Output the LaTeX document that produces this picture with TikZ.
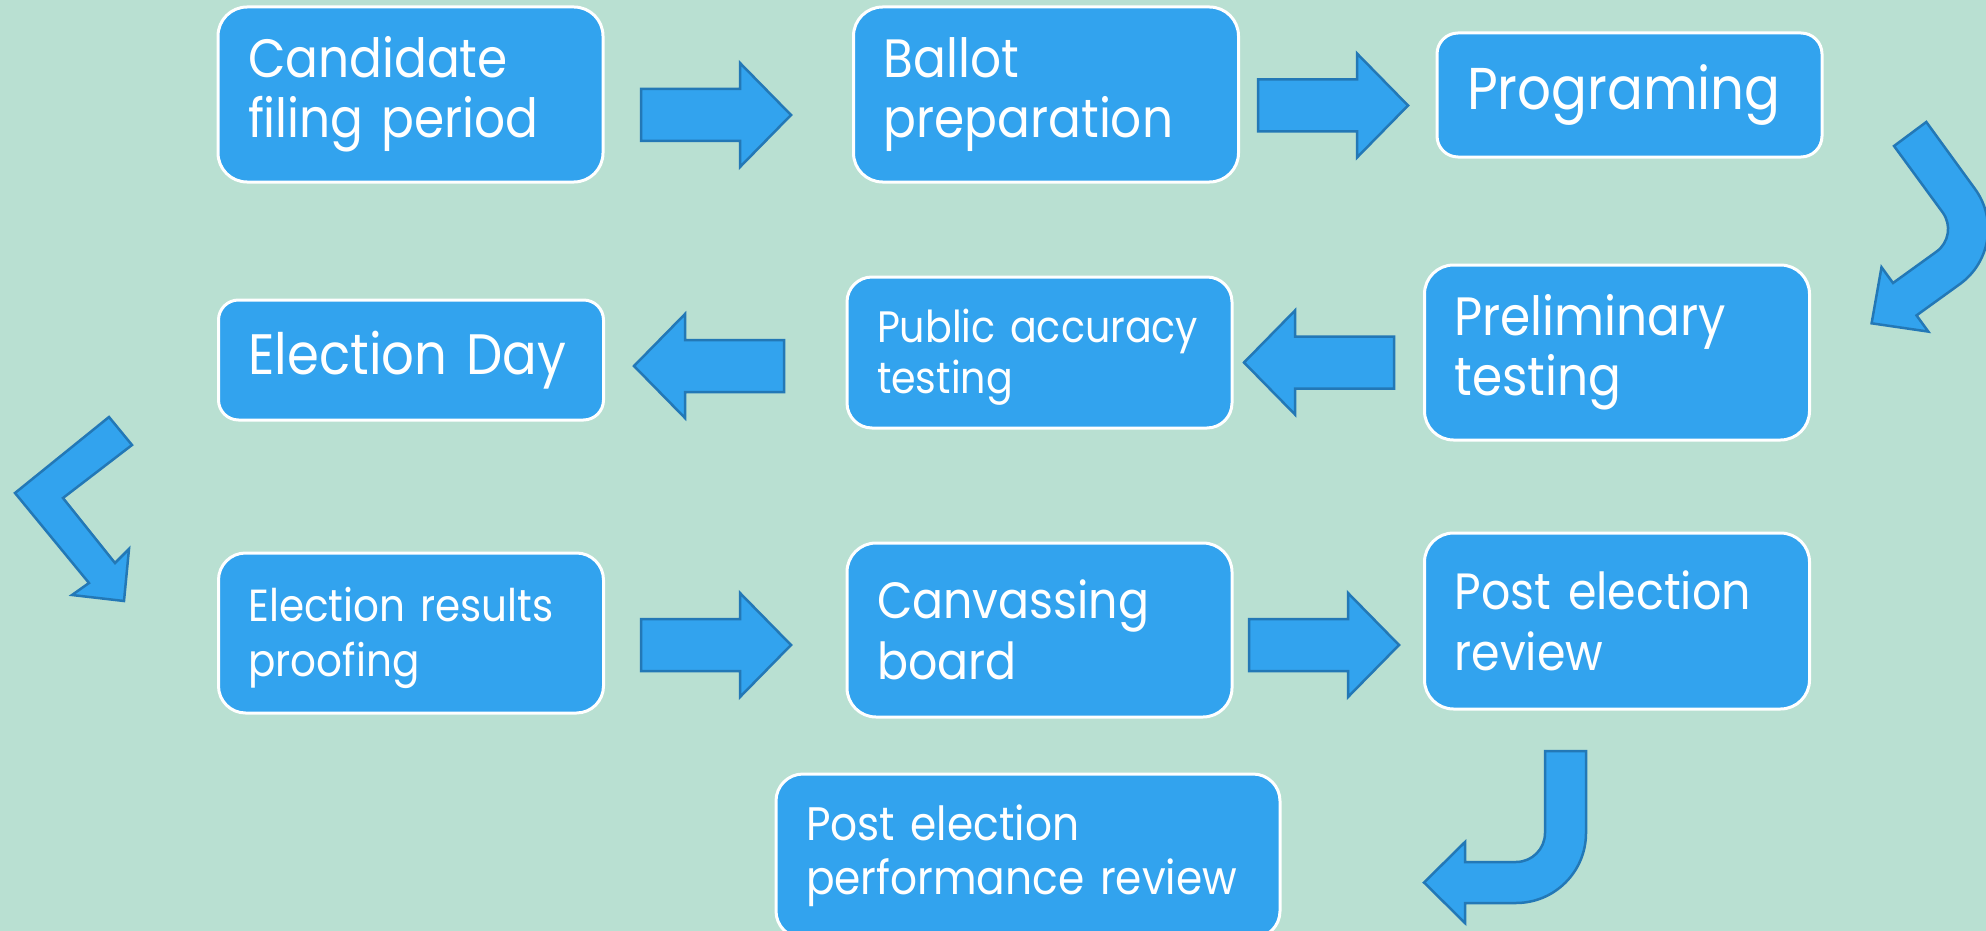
\documentclass[tikz,border=0pt]{standalone}
\usepackage{fontspec}
\setmainfont[FakeStretch=0.9]{Poppins}
\definecolor{bgmint}{HTML}{B9E0D2}
\definecolor{boxblue}{HTML}{32A3EE}
\definecolor{arrline}{HTML}{2378B6}
\tikzset{
  stepbox/.style={rectangle,draw=white,fill=boxblue,line width=3pt,text=white,align=left,
    text width=325pt,inner xsep=30pt,inner ysep=0pt},
  fsz/.style 2 args={font=\fontsize{#1}{#2}\selectfont},
  blk/.style={draw=arrline,fill=boxblue,line width=2.5pt,line join=miter},
  % straight block arrow, origin at the middle of its tail
  barr/.pic={\draw[blk] (0,-26) -- (99,-26) -- (99,-52) -- (150,0) -- (99,52) -- (99,26) -- (0,26) -- cycle;},
}
% taller first line, pushes a small two-line label a little lower
\newcommand{\lowr}[1]{\rule{0pt}{#1pt}}

\begin{document}
\begin{tikzpicture}[x=1pt,y=-1pt]
\fill[bgmint] (0,0) rectangle (1986,931);
\useasboundingbox (0,0) rectangle (1986,931);
% ---- first row
\node[stepbox,fsz={54}{60},minimum height=175pt,rounded corners=29pt] (cand) at (410.5,94.5) {Candidate\\filing~period};
\node[stepbox,fsz={54}{60},minimum height=175pt,rounded corners=29pt] (ballot) at (1046,94.5) {Ballot\\preparation};
\node[stepbox,fsz={59}{70},minimum height=124pt,rounded corners=21pt] (prog) at (1629.5,95) {Programing};
\pic at (641,115) {barr};
\pic at (1258,105.5) {barr};
% bend down to the second row
\draw[blk] (1894,146) -- (1942.7,212.5) arc[start angle=-36,end angle=54,radius=28]
  -- (1893,283) -- (1881.5,267.2) -- (1871.6,323.3) -- (1928.3,331.6) -- (1916.5,315.4)
  -- (1960,284) arc[start angle=54,end angle=-36,radius=68] -- (1926.3,122) -- cycle;
% ---- second row, right to left
\node[stepbox,fsz={54}{60},minimum height=175pt,rounded corners=29pt] (prelim) at (1617,352.5) {Preliminary\\testing};
\node[stepbox,fsz={44}{51},minimum height=151pt,rounded corners=25pt] (public) at (1039.5,352.5) {\lowr{42}Public~accuracy\\testing};
\node[stepbox,fsz={57}{66},minimum height=120pt,rounded corners=20pt] (eday) at (411,360) {Election~Day};
\pic[rotate=180] at (1394,362.5) {barr};
\pic[rotate=180] at (784,366) {barr};
% sharp bend down to the third row
\draw[blk] (109,417) -- (15,493) -- (89,583) -- (72,595) -- (124,601) -- (129,549)
  -- (115,563) -- (63,498) -- (132,445) -- cycle;
% ---- third row
\node[stepbox,fsz={45}{55},minimum height=160pt,rounded corners=27pt] (proof) at (411,633) {\lowr{45}Election~results\\proofing};
\node[stepbox,fsz={51}{61},minimum height=174pt,rounded corners=29pt] (canvass) at (1039.5,630) {Canvassing\\board};
\node[stepbox,fsz={51}{61},minimum height=176pt,rounded corners=29pt] (review) at (1617,621) {Post~election\\review};
\pic at (641,645) {barr};
\pic at (1249,645) {barr};
% hook back to the last step
\draw[blk] (1545,751) -- (1586,751) -- (1586,833) arc[start angle=0,end angle=90,radius=70]
  -- (1465,903) -- (1465,923) -- (1424,882.5) -- (1465,842) -- (1465,862) -- (1516,862)
  arc[start angle=90,end angle=0,radius=29] -- cycle;
\node[stepbox,fsz={47}{54},text width=444pt,minimum height=164pt,rounded corners=27pt] (perf) at (1028,856) {Post~election\\performance~review};
\end{tikzpicture}
\end{document}
